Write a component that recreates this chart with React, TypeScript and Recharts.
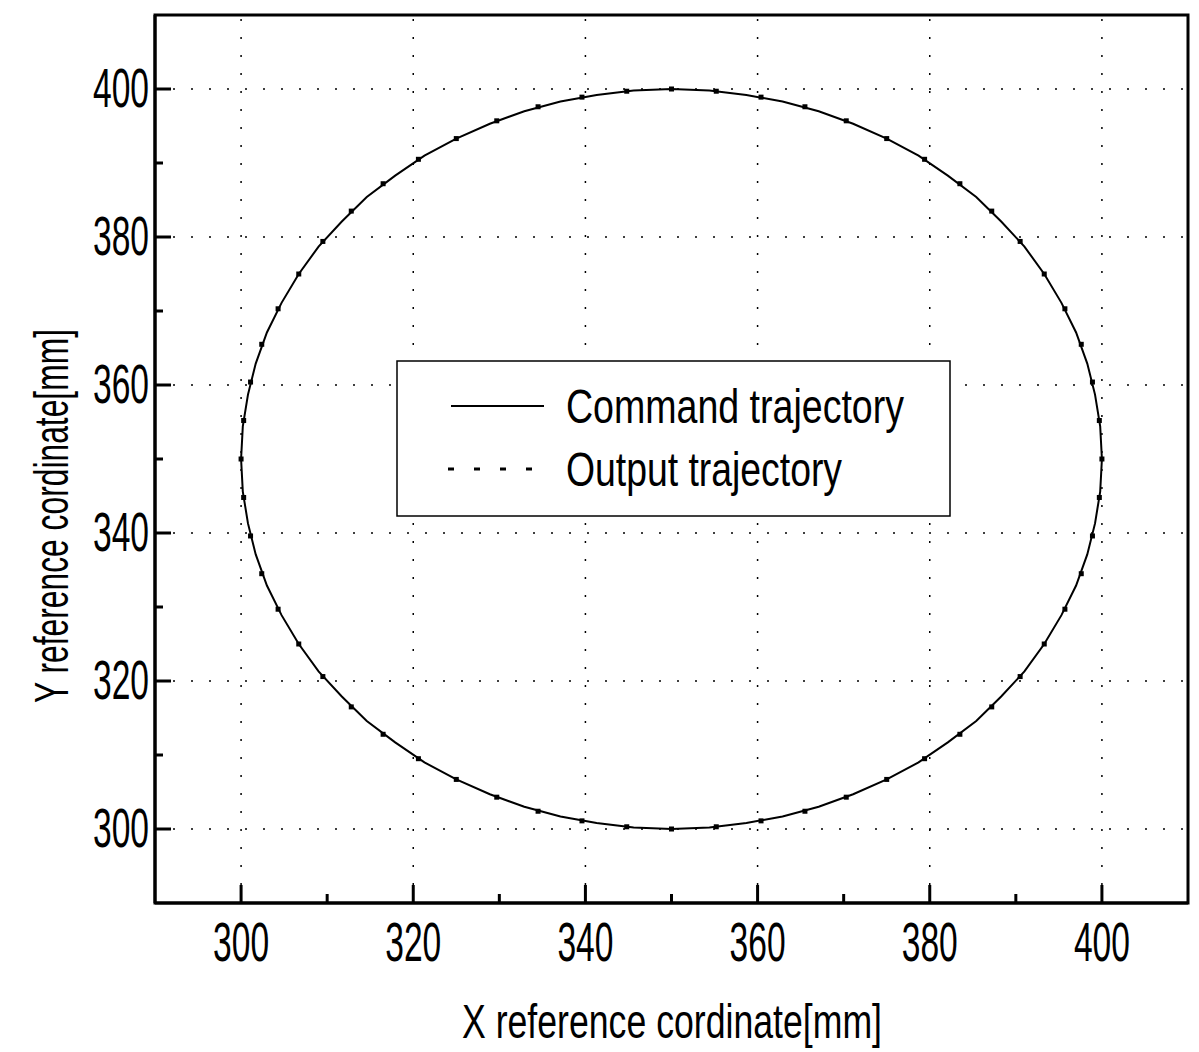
import { ScatterChart, Scatter, XAxis, YAxis, ReferenceLine, ReferenceArea, Legend, Label } from 'recharts';

// axis ticks (major labelled, minor unlabelled)
const MAJOR_TICKS = [300, 320, 340, 360, 380, 400];
const MINOR_TICKS = [310, 330, 350, 370, 390];
const ALL_TICKS = [...MAJOR_TICKS, ...MINOR_TICKS].sort((a, b) => a - b);

// command trajectory, read every ~5 degrees round the circle
const cmdX = [
  400.0, 399.8, 399.2, 398.3, 397.0, 395.3, 393.3, 391.0, 388.3, 385.4, 382.1, 378.7, 375.0, 371.1, 367.1, 362.9, 358.7, 354.4, 350.0,
  345.6, 341.3, 337.1, 332.9, 328.9, 325.0, 321.3, 317.9, 314.6, 311.7, 309.0, 306.7, 304.7, 303.0, 301.7, 300.8, 300.2, 300.0,
  300.2, 300.8, 301.7, 303.0, 304.7, 306.7, 309.0, 311.7, 314.6, 317.9, 321.3, 325.0, 328.9, 332.9, 337.1, 341.3, 345.6, 350.0,
  354.4, 358.7, 362.9, 367.1, 371.1, 375.0, 378.7, 382.1, 385.4, 388.3, 391.0, 393.3, 395.3, 397.0, 398.3, 399.2, 399.8, 400.0,
];
const cmdY = [
  350.0, 354.4, 358.7, 362.9, 367.1, 371.1, 375.0, 378.7, 382.1, 385.4, 388.3, 391.0, 393.3, 395.3, 397.0, 398.3, 399.2, 399.8, 400.0,
  399.8, 399.2, 398.3, 397.0, 395.3, 393.3, 391.0, 388.3, 385.4, 382.1, 378.7, 375.0, 371.1, 367.1, 362.9, 358.7, 354.4, 350.0,
  345.6, 341.3, 337.1, 332.9, 328.9, 325.0, 321.3, 317.9, 314.6, 311.7, 309.0, 306.7, 304.7, 303.0, 301.7, 300.8, 300.2, 300.0,
  300.2, 300.8, 301.7, 303.0, 304.7, 306.7, 309.0, 311.7, 314.6, 317.9, 321.3, 325.0, 328.9, 332.9, 337.1, 341.3, 345.6, 350.0,
];

// output trajectory markers
const outX = [
  400.0, 399.7, 398.9, 397.6, 395.7, 393.3, 390.5, 387.2, 383.5, 379.4, 375.0, 370.3, 365.5, 360.4, 355.2, 350.0,
  344.8, 339.6, 334.5, 329.7, 325.0, 320.6, 316.5, 312.8, 309.5, 306.7, 304.3, 302.4, 301.1, 300.3, 300.0,
  300.3, 301.1, 302.4, 304.3, 306.7, 309.5, 312.8, 316.5, 320.6, 325.0, 329.7, 334.5, 339.6, 344.8, 350.0,
  355.2, 360.4, 365.5, 370.3, 375.0, 379.4, 383.5, 387.2, 390.5, 393.3, 395.7, 397.6, 398.9, 399.7,
];
const outY = [
  350.0, 355.2, 360.4, 365.5, 370.3, 375.0, 379.4, 383.5, 387.2, 390.5, 393.3, 395.7, 397.6, 398.9, 399.7, 400.0,
  399.7, 398.9, 397.6, 395.7, 393.3, 390.5, 387.2, 383.5, 379.4, 375.0, 370.3, 365.5, 360.4, 355.2, 350.0,
  344.8, 339.6, 334.5, 329.7, 325.0, 320.6, 316.5, 312.8, 309.5, 306.7, 304.3, 302.4, 301.1, 300.3, 300.0,
  300.3, 301.1, 302.4, 304.3, 306.7, 309.5, 312.8, 316.5, 320.6, 325.0, 329.7, 334.5, 339.6, 344.8,
];

const command = cmdX.map((x, i) => ({ x, y: cmdY[i] }));
const output = outX.map((x, i) => ({ x, y: outY[i] }));

const FONT = '"Liberation Sans", Arial, sans-serif';

function XTick({ x, y, payload }: any) {
  const major = payload.value % 20 === 0;
  return (
    <g>
      <line x1={x} y1={y} x2={x} y2={y - (major ? 18 : 9)} stroke="#000" strokeWidth={3} />
      {major && (
        <text x={x} y={y + 58} textAnchor="middle" fontFamily={FONT} fontSize={55} fill="#000" textLength={56} lengthAdjust="spacingAndGlyphs">
          {payload.value}
        </text>
      )}
    </g>
  );
}

function YTick({ x, y, payload }: any) {
  const major = payload.value % 20 === 0;
  return (
    <g>
      <line x1={x} y1={y} x2={x + (major ? 16 : 8)} y2={y} stroke="#000" strokeWidth={3} />
      {major && (
        <text x={x - 6} y={y + 18} textAnchor="end" fontFamily={FONT} fontSize={55} fill="#000" textLength={56} lengthAdjust="spacingAndGlyphs">
          {payload.value}
        </text>
      )}
    </g>
  );
}

const noMarker = () => <g />;
const OutMarker = ({ cx, cy }: any) => <rect x={cx - 2.5} y={cy - 2.5} width={5} height={5} fill="#000" />;

// legend svg is wider than the box so the condensed texts never clip
function LegendBox() {
  return (
    <svg width={700} height={157} style={{ display: 'block', overflow: 'visible' }}>
      <rect x={1} y={1} width={553} height={155} fill="#fff" stroke="#000" strokeWidth={1.5} />
      <line x1={55} y1={46} x2={148} y2={46} stroke="#000" strokeWidth={2} />
      <text x={170} y={63} fontFamily={FONT} fontSize={48} fill="#000" textLength={338} lengthAdjust="spacingAndGlyphs">
        Command trajectory
      </text>
      <line x1={52} y1={109} x2={148} y2={109} stroke="#000" strokeWidth={3} strokeDasharray="6 20" />
      <text x={170} y={126} fontFamily={FONT} fontSize={48} fill="#000" textLength={276} lengthAdjust="spacingAndGlyphs">
        Output trajectory
      </text>
    </svg>
  );
}

export default function App() {
  return (
    <div style={{ position: 'absolute', left: 0, top: 0, background: '#fff' }}>
      <ScatterChart width={1199} height={1052} margin={{ top: 15, right: 11, bottom: 0, left: 0 }}>
        <XAxis
          type="number"
          dataKey="x"
          domain={[290, 410]}
          ticks={ALL_TICKS}
          interval={0}
          height={149}
          tickSize={0}
          tickMargin={0}
          tickLine={false}
          axisLine={{ stroke: '#000', strokeWidth: 3 }}
          tick={<XTick />}
        >
          <Label
            content={() => (
              <text x={672} y={1038} textAnchor="middle" fontFamily={FONT} fontSize={48} fill="#000" textLength={420} lengthAdjust="spacingAndGlyphs">
                X reference cordinate[mm]
              </text>
            )}
          />
        </XAxis>
        <YAxis
          type="number"
          dataKey="y"
          domain={[290, 410]}
          ticks={ALL_TICKS}
          interval={0}
          width={155}
          tickSize={0}
          tickMargin={0}
          tickLine={false}
          axisLine={{ stroke: '#000', strokeWidth: 3 }}
          tick={<YTick />}
        >
          <Label
            content={() => (
              <text
                x={68}
                y={516}
                transform="rotate(-90 68 516)"
                textAnchor="middle"
                fontFamily={FONT}
                fontSize={48}
                fill="#000"
                textLength={374}
                lengthAdjust="spacingAndGlyphs"
              >
                Y reference cordinate[mm]
              </text>
            )}
          />
        </YAxis>
        {MAJOR_TICKS.map((v) => (
          <ReferenceLine key={`gx${v}`} x={v} stroke="#000" strokeWidth={1.5} strokeDasharray="2 16" />
        ))}
        {MAJOR_TICKS.map((v) => (
          <ReferenceLine key={`gy${v}`} y={v} stroke="#000" strokeWidth={1.5} strokeDasharray="2 16" />
        ))}
        <ReferenceArea x1={290} x2={410} y1={290} y2={410} fill="none" stroke="#000" strokeWidth={3} />
        <Scatter
          name="Command trajectory"
          data={command}
          line={{ stroke: '#000', strokeWidth: 2 }}
          lineType="joint"
          shape={noMarker}
          isAnimationActive={false}
        />
        <Scatter name="Output trajectory" data={output} shape={<OutMarker />} isAnimationActive={false} />
        <Legend
          layout="vertical"
          align="center"
          verticalAlign="middle"
          wrapperStyle={{ left: 396, top: 360, width: 700, height: 157 }}
          content={() => <LegendBox />}
        />
      </ScatterChart>
    </div>
  );
}
